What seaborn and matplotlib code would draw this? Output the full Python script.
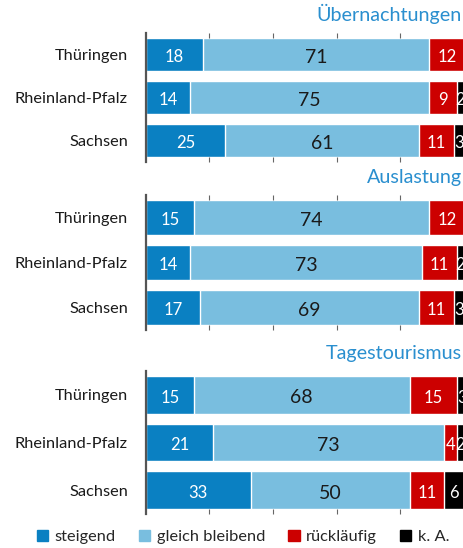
import matplotlib
matplotlib.use("Agg")
import matplotlib.pyplot as plt
import matplotlib.patches as mpatches
import numpy as np
import pandas as pd
import seaborn as sns

# Daten (Anteile in %)
laender = ["Thüringen", "Rheinland-Pfalz", "Sachsen"]
panels = ["Übernachtungen", "Auslastung", "Tagestourismus"]
serien = ["steigend", "gleich bleibend", "rückläufig", "k. A."]

steigend = [[18, 14, 25], [15, 14, 17], [15, 21, 33]]
gleich_bleibend = [[71, 75, 61], [74, 73, 69], [68, 73, 50]]
ruecklaeufig = [[12, 9, 11], [12, 11, 11], [15, 4, 11]]
keine_angabe = [[0, 2, 3], [0, 2, 3], [3, 2, 6]]

farben = ["#0A80C2", "#79BEDF", "#CC0000", "#000000"]
text_farben = ["white", "#1a1a1a", "white", "white"]
titel_farbe = "#2A8FCF"

sns.set_theme(style="white")
plt.rcParams["font.family"] = ["Lato", "DejaVu Sans"]

fig = plt.figure(figsize=(4.64, 5.48), dpi=100)

# Achsenpositionen in Pixeln (oben, unten)
H = 548.0
pos = [(33, 162), (195, 330), (371, 514)]
left, width = 146 / 464, 317.5 / 464

for i, name in enumerate(panels):
    top, bot = pos[i]
    ax = fig.add_axes([left, 1 - bot / H, width, (bot - top) / H])
    werte = np.array([steigend[i], gleich_bleibend[i], ruecklaeufig[i], keine_angabe[i]])
    kum = werte.cumsum(axis=0)

    # gestapelt: groesste Summe zuerst, dann ueberdecken
    for s in range(3, -1, -1):
        df = pd.DataFrame({"land": laender, "wert": kum[s]})
        sns.barplot(data=df, x="wert", y="land", orient="h", color=farben[s],
                    saturation=1, width=0.79, ax=ax)

    # Beschriftungen
    for s in range(4):
        for j in range(3):
            v = werte[s, j]
            if v == 0:
                continue
            mitte = kum[s, j] - v / 2
            groesse = 14 if s == 1 else 12
            ax.text(mitte, j + 0.06, str(v), ha="center", va="center",
                    color=text_farben[s], fontsize=groesse, clip_on=False)

    ax.set_xlim(0, 100)
    ax.set_ylim(2.5, -0.5)
    ax.set_xlabel("")
    ax.set_ylabel("")
    ax.set_xticks([20, 40, 60, 80])
    ax.set_xticklabels([])
    ax.tick_params(axis="x", direction="in", length=3.5, width=0.8, color="#666666",
                   top=(i < 2), bottom=True, labeltop=False, labelbottom=False)
    ax.tick_params(axis="y", length=0, pad=13, labelsize=11.8, labelcolor="#1a1a1a")
    for sp in ["top", "right", "bottom"]:
        ax.spines[sp].set_visible(False)
    ax.spines["left"].set_color("#555555")
    ax.spines["left"].set_linewidth(1.6)
    ax.set_axisbelow(False)

    fig.text(462 / 464, 1 - (top - 12) / H, name, ha="right", va="baseline",
             color=titel_farbe, fontsize=14.2)

handles = [mpatches.Patch(color=c, label=l) for c, l in zip(farben, serien)]
fig.legend(handles=handles, loc="center", bbox_to_anchor=(243 / 464, 1 - 537 / H),
           ncol=4, frameon=False, fontsize=11.8, handlelength=0.7, handleheight=0.7,
           handletextpad=0.4, columnspacing=1.4, borderaxespad=0)

fig.savefig("out.png", dpi=100)
